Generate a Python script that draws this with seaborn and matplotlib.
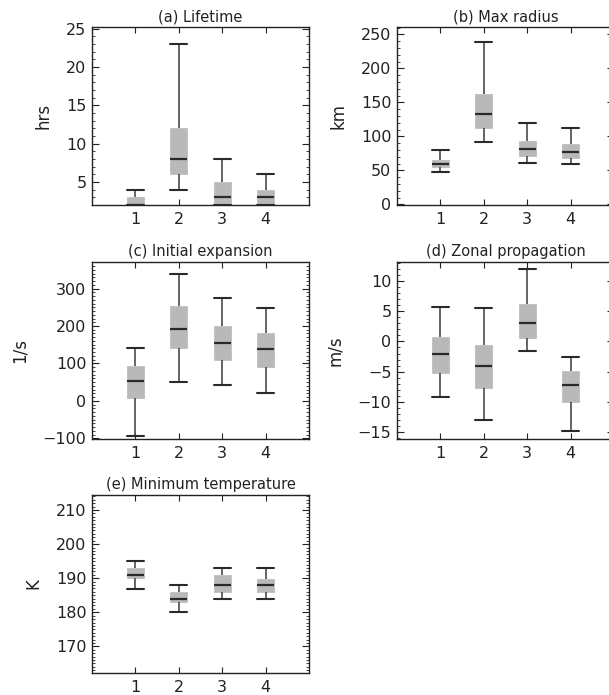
import numpy as np
import pandas as pd
import matplotlib
matplotlib.use("Agg")
import matplotlib.pyplot as plt
from matplotlib.ticker import MultipleLocator
import seaborn as sns

# Categories (x positions)
groups = [1, 2, 3, 4]

# Box statistics per panel: [low whisker, q1, median, q3, high whisker]
lifetime = [[2, 2, 2, 3, 4], [4, 6, 8, 12, 23], [2, 2, 3, 5, 8], [2, 2, 3, 4, 6]]
max_radius = [[47.6, 54.4, 59.4, 65.7, 80.4], [91.8, 112.4, 133, 162.4, 238.8],
              [61.3, 70.6, 81.5, 93.7, 120], [59.4, 67.6, 77.5, 88.8, 111.8]]
init_expansion = [[-95, 8, 53, 93, 141], [50, 140, 193, 253, 340],
                  [43, 109, 155, 200, 276], [21, 91, 138, 181, 247]]
zonal_prop = [[-9.3, -5.2, -2.15, 0.8, 5.8], [-13.1, -7.7, -4.0, -0.55, 5.6],
              [-1.5, 0.55, 3.0, 6.2, 12.1], [-14.8, -10.0, -7.2, -4.9, -2.5]]
min_temp = [[186.9, 190, 191, 192.9, 194.9], [180, 182.9, 184, 186, 187.9],
            [183.9, 186, 187.9, 190.9, 192.9], [184, 186, 188, 189.8, 193]]

titles = ["(a) Lifetime", "(b) Max radius", "(c) Initial expansion",
          "(d) Zonal propagation", "(e) Minimum temperature"]
ylabels = ["hrs", "km", "1/s", "m/s", "K"]
ylims = [(2, 25.2), (-1, 261), (-102, 371), (-16.2, 13.2), (162.2, 214.4)]
majors = [5, 50, 100, 5, 10]
minors = [1, 10, 10, 1, 1]
panels = [lifetime, max_radius, init_expansion, zonal_prop, min_temp]

sns.set_style("ticks")
plt.rcParams['font.family'] = ['DejaVu Sans']

W, H = 609, 695
fig = plt.figure(figsize=(W / 100, H / 100), dpi=100)

# axes boxes in pixels: left, top, right, bottom
boxes = [(92, 27, 309, 205), (397, 27, 614, 205),
         (92, 262, 309, 439), (397, 262, 614, 439),
         (92, 495, 309, 673)]

for i, (stats, box) in enumerate(zip(panels, boxes)):
    l, t, r, b = box
    ax = fig.add_axes([l / W, 1 - b / H, (r - l) / W, (b - t) / H])
    rows = []
    for g, s in zip(groups, stats):
        for v in s:
            rows.append({"group": g, "value": v})
    df = pd.DataFrame(rows)
    sns.boxplot(data=df, x="group", y="value", ax=ax, native_scale=True,
                width=0.4, whis=(0, 100), showfliers=False,
                color="#b9b9b9", linecolor="#333333", linewidth=1.4,
                boxprops=dict(edgecolor="#b9b9b9", facecolor="#b9b9b9", linewidth=0.5),
                medianprops=dict(color="#2a2a2a", linewidth=1.6),
                whiskerprops=dict(color="#4a4a4a", linewidth=1.2),
                capprops=dict(color="#2a2a2a", linewidth=1.5),
                capwidths=0.4)
    ax.set_xlim(0, 5)
    ax.set_ylim(*ylims[i])
    ax.set_xticks(groups)
    ax.set_xticklabels([str(g) for g in groups])
    ax.yaxis.set_major_locator(MultipleLocator(majors[i]))
    ax.yaxis.set_minor_locator(MultipleLocator(minors[i]))
    ax.tick_params(axis="both", which="both", direction="in", top=True, right=True,
                   labelsize=11.5, colors="#222222")
    ax.tick_params(axis="y", which="major", length=5, width=0.8, pad=4)
    ax.tick_params(axis="y", which="minor", length=2.5, width=0.6)
    ax.tick_params(axis="x", which="major", length=4, width=0.8, pad=5)
    ax.tick_params(axis="x", which="minor", bottom=False, top=False)
    for sp in ax.spines.values():
        sp.set_visible(True)
        sp.set_linewidth(1.0)
        sp.set_color("#222222")
    ax.set_xlabel("")
    ax.set_ylabel(ylabels[i], fontsize=12, labelpad=10, color="#222222")
    ax.set_title(titles[i], fontsize=10.5, pad=4, color="#222222")

fig.savefig("out.png", dpi=100)
